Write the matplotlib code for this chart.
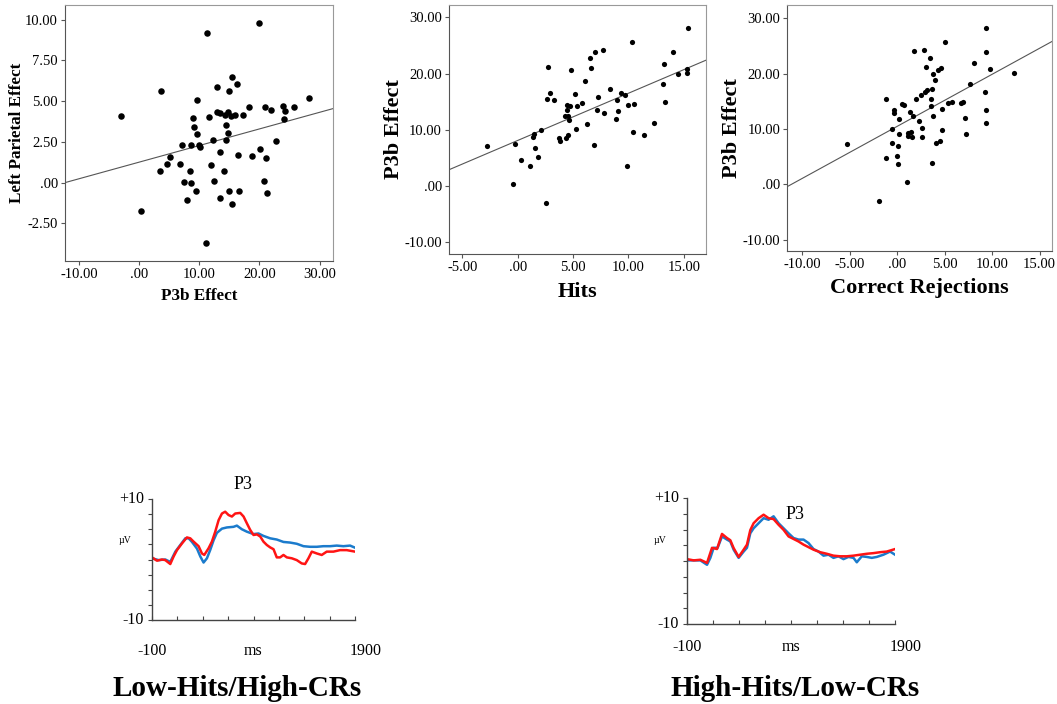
import numpy as np
import matplotlib
matplotlib.use("Agg")
import matplotlib.pyplot as plt

plt.rcParams['font.family'] = ['Liberation Serif', 'DejaVu Serif']

# --- scatter 1: P3b effect vs left parietal effect ---
p3b_x = [-3.0, 3.7, 0.4, 3.5, 4.6, 5.1, 6.8, 7.2, 7.4, 7.9, 8.6, 8.5, 8.6, 9.0, 9.1,
         9.5, 9.6, 9.7, 10.0, 10.1, 11.1, 11.3, 11.6, 12.0, 12.3, 12.4, 13.0, 13.0,
         13.4, 13.5, 13.4, 14.1, 14.3, 14.5, 14.5, 14.7, 14.7, 14.9, 15.0, 15.2, 15.4,
         15.5, 16.0, 16.3, 16.4, 16.6, 17.3, 18.2, 18.8, 20.0, 20.1, 20.8, 20.9, 21.1,
         21.2, 21.9, 22.8, 23.9, 24.0, 24.3, 25.7, 28.2]
lp_y = [4.12, 5.63, -1.71, 0.73, 1.16, 1.57, 1.12, 2.33, 0.06, -1.04, 2.33, 0.73, -0.02,
        3.94, 3.41, -0.49, 2.98, 5.06, 2.31, 2.18, -3.67, 9.2, 4.06, 1.10, 2.59, 0.12,
        5.9, 4.31, 4.29, 1.90, -0.92, 0.73, 4.16, 3.57, 2.61, 3.06, 4.35, -0.49, 5.65,
        4.12, 6.47, -1.29, 4.18, 6.06, 1.69, -0.53, 4.14, 4.67, 1.63, 9.8, 2.06, 0.08,
        4.65, 1.53, -0.63, 4.49, 2.53, 4.69, 3.90, 4.39, 4.65, 5.18]
fit1 = (1.26, 0.102)  # intercept, slope

# --- scatter 2: hits vs P3b effect ---
hits_x = [-2.77, -0.21, -0.39, 0.30, 1.11, 1.39, 1.51, 1.57, 1.87, 2.14, 2.59, 2.68, 2.74,
          2.95, 3.31, 3.77, 3.86, 4.31, 4.40, 4.46, 4.49, 4.55, 4.58, 4.64, 4.73, 4.82,
          5.18, 5.24, 5.33, 5.84, 6.08, 6.23, 6.51, 6.63, 6.90, 7.02, 7.20, 7.23, 7.71,
          7.80, 8.31, 8.89, 9.01, 9.10, 9.37, 9.67, 9.88, 10.0, 10.30, 10.39, 10.48,
          11.36, 12.29, 13.13, 13.22, 13.34, 14.01, 14.43, 15.27, 15.33, 15.36]
hits_y = [7.12, 7.42, 0.42, 4.63, 3.56, 8.66, 9.32, 6.82, 5.10, 9.97, -2.97, 15.43, 21.13,
          16.62, 15.31, 8.55, 7.95, 12.46, 8.61, 13.47, 14.48, 9.14, 12.40, 11.69, 14.18,
          20.65, 16.32, 10.15, 14.18, 14.84, 18.69, 10.98, 22.73, 21.01, 7.36, 23.92,
          13.47, 15.91, 24.21, 12.94, 17.21, 11.99, 15.37, 13.35, 16.62, 16.26, 3.62,
          14.42, 25.64, 9.67, 14.60, 9.02, 11.22, 18.16, 21.78, 14.90, 23.86, 19.94,
          20.12, 20.89, 28.13]
fit2 = (8.1, 0.84)

# --- scatter 3: correct rejections vs P3b effect ---
cr_x = [-5.26, -1.89, -1.23, -1.16, -0.56, -0.56, -0.35, -0.35, -0.04, 0.04, 0.11, 0.18,
        0.18, 0.46, 0.70, 1.02, 1.09, 1.16, 1.33, 1.47, 1.54, 1.65, 1.72, 1.93, 2.32,
        2.49, 2.60, 2.63, 2.77, 2.95, 3.02, 3.16, 3.44, 3.54, 3.54, 3.61, 3.61, 3.75,
        3.82, 4.0, 4.04, 4.25, 4.49, 4.60, 4.67, 4.74, 5.05, 5.37, 5.79, 6.74, 6.91,
        7.16, 7.19, 7.68, 8.04, 9.23, 9.30, 9.33, 9.37, 9.37, 9.82, 12.32]
cr_y = [7.29, -2.89, 15.36, 4.76, 10.06, 7.53, 13.43, 12.95, 5.18, 3.67, 6.93, 9.10,
        11.75, 14.58, 14.28, 0.54, 9.22, 8.73, 13.13, 9.52, 8.61, 12.35, 24.04, 15.48,
        11.39, 16.08, 10.18, 8.55, 24.34, 16.63, 21.27, 16.99, 22.83, 15.48, 14.16,
        17.29, 3.80, 12.41, 20.0, 18.8, 7.47, 20.72, 7.89, 21.08, 9.76, 13.55, 25.78,
        14.76, 14.82, 14.64, 14.94, 12.05, 9.10, 18.19, 21.87, 16.69, 23.98, 28.19,
        13.49, 11.08, 20.9, 20.18]
fit3 = (10.5, 0.94)

# --- ERP waveforms (ms, microvolts) ---
low_blue_t = [-100, -34, 31, 80, 130, 179, 228, 261, 294, 343, 376, 408, 441, 474, 507,
              539, 589, 638, 703, 736, 785, 834, 900, 949, 998, 1064, 1129, 1195, 1260,
              1326, 1392, 1457, 1523, 1588, 1654, 1720, 1785, 1851, 1900]
low_blue_v = [0.2, -0.1, 0.0, -0.4, 1.3, 2.4, 3.5, 3.5, 2.9, 1.8, 0.5, -0.5, 0.2, 1.6, 3.2,
              4.4, 5.1, 5.3, 5.4, 5.6, 5.0, 4.6, 4.2, 4.3, 3.9, 3.5, 3.3, 2.9, 2.8, 2.6,
              2.2, 2.1, 2.1, 2.2, 2.2, 2.3, 2.2, 2.3, 1.95]
low_red_t = [-100, -51, -2, 31, 80, 113, 146, 195, 244, 277, 310, 359, 392, 415, 457, 490,
             523, 556, 589, 621, 654, 687, 720, 769, 802, 834, 867, 900, 933, 966, 998,
             1031, 1064, 1097, 1129, 1162, 1195, 1228, 1277, 1326, 1375, 1408, 1441, 1474,
             1523, 1572, 1621, 1687, 1752, 1818, 1900]
low_red_v = [0.35, -0.2, 0.0, -0.1, -0.75, 0.5, 1.55, 2.65, 3.65, 3.5, 2.95, 2.2, 1.0, 0.75,
             1.85, 2.95, 4.6, 6.5, 7.6, 7.9, 7.35, 7.1, 7.6, 7.7, 7.1, 6.0, 4.9, 4.05, 4.15,
             3.8, 2.95, 2.4, 2.0, 1.7, 0.35, 0.35, 0.75, 0.35, 0.2, -0.1, -0.65, -0.75, 0.2,
             1.3, 1.0, 0.75, 1.3, 1.3, 1.55, 1.55, 1.3]
high_blue_t = [-100, -36, 28, 92, 124, 156, 194, 236, 284, 316, 348, 396, 444, 476, 508,
               540, 588, 636, 684, 732, 780, 828, 876, 924, 972, 1020, 1068, 1116, 1164,
               1212, 1260, 1308, 1356, 1404, 1452, 1500, 1532, 1580, 1628, 1676, 1724,
               1788, 1852, 1900]
high_blue_v = [0.1, 0.1, 0.1, -0.6, 0.5, 2.1, 2.1, 3.9, 3.4, 3.1, 1.8, 0.5, 1.5, 2.1, 4.4,
               5.2, 6.0, 6.8, 6.55, 7.1, 6.0, 5.2, 4.4, 3.65, 3.4, 3.4, 2.85, 1.9, 1.5,
               0.85, 1.0, 0.5, 0.75, 0.3, 0.65, 0.5, -0.2, 0.75, 0.65, 0.5, 0.65, 1.0, 1.5,
               1.0]
high_red_t = [-100, -36, 28, 92, 140, 188, 236, 284, 316, 348, 396, 444, 476, 508, 540,
              588, 636, 684, 732, 780, 828, 876, 924, 972, 1020, 1068, 1116, 1180, 1244,
              1308, 1372, 1436, 1500, 1564, 1628, 1692, 1756, 1820, 1900]
high_red_v = [0.3, 0.1, 0.2, -0.3, 2.1, 1.9, 4.3, 3.65, 3.3, 2.05, 0.65, 1.8, 2.6, 4.9,
              6.0, 6.8, 7.35, 6.8, 6.65, 5.75, 4.95, 3.9, 3.5, 3.1, 2.6, 2.2, 1.8, 1.4,
              1.15, 0.85, 0.75, 0.75, 0.85, 1.0, 1.15, 1.25, 1.4, 1.5, 1.9]

BLUE = '#1b7bcc'
RED = '#ff1414'

fig = plt.figure(figsize=(10.57, 7.04), dpi=100)


def scatter_panel(rect, x, y, fit, xlim, ylim, xticks, yticks, xlabel, ylabel,
                  size, lab_size, xpad, ypad):
    ax = fig.add_axes(rect)
    ax.scatter(x, y, s=size, color='black', zorder=3, linewidths=0)
    xs = np.array(xlim)
    ax.plot(xs, fit[0] + fit[1] * xs, color='#555555', lw=0.8)
    ax.set_xlim(xlim)
    ax.set_ylim(ylim)
    ax.set_xticks(xticks)
    ax.set_yticks(yticks)
    fmt = lambda v: '.00' if v == 0 else f'{v:.2f}'
    ax.set_xticklabels([fmt(v) for v in xticks])
    ax.set_yticklabels([fmt(v) for v in yticks])
    ax.tick_params(labelsize=10.5, length=3, color='#555555', pad=2)
    for s in ax.spines.values():
        s.set_color('#999999')
        s.set_linewidth(0.8)
    ax.spines['left'].set_color('#555555')
    ax.spines['bottom'].set_color('#555555')
    ax.set_xlabel(xlabel, fontsize=lab_size, fontweight='bold', labelpad=xpad)
    ax.set_ylabel(ylabel, fontsize=lab_size, fontweight='bold', labelpad=ypad)
    return ax


scatter_panel([0.0615, 0.6293, 0.2535, 0.3636], p3b_x, lp_y, fit1, (-12.3, 32.2),
              (-4.8, 10.9), [-10, 0, 10, 20, 30], [-2.5, 0, 2.5, 5, 7.5, 10],
              'P3b Effect', 'Left Parietal Effect', 22, 12.3, 5, 0)
scatter_panel([0.4248, 0.6392, 0.2431, 0.3537], hits_x, hits_y, fit2, (-6.2, 17.0),
              (-12.1, 32.2), [-5, 0, 5, 10, 15], [-10, 0, 10, 20, 30],
              'Hits', 'P3b Effect', 14, 16, 6, 0)
scatter_panel([0.7446, 0.6435, 0.2507, 0.3494], cr_x, cr_y, fit3, (-11.6, 16.3),
              (-12.0, 32.4), [-10, -5, 0, 5, 10, 15], [-10, 0, 10, 20, 30],
              'Correct Rejections', 'P3b Effect', 14, 16, 5, 0)


def erp_panel(rect, blue_t, blue_v, red_t, red_v, p3_xy, lab_y):
    ax = fig.add_axes(rect)
    ax.plot(blue_t, blue_v, color=BLUE, lw=1.8)
    ax.plot(red_t, red_v, color=RED, lw=1.8)
    ax.set_xlim(-100, 1900)
    ax.set_ylim(-10, 10)
    ax.set_xticks(np.arange(-100, 1901, 250))
    ax.set_yticks(np.arange(-10, 10.1, 2.5))
    ax.set_xticklabels([])
    ax.set_yticklabels([])
    ax.tick_params(axis='x', direction='in', length=3, color='#444444')
    ax.tick_params(axis='y', direction='out', length=3, color='#444444')
    ax.spines['top'].set_visible(False)
    ax.spines['right'].set_visible(False)
    for s in ('left', 'bottom'):
        ax.spines[s].set_color('#444444')
        ax.spines[s].set_linewidth(1.0)
    t = ax.transAxes
    ax.text(-0.04, 1.0, '+10', transform=t, ha='right', va='center', fontsize=11.5)
    ax.text(-0.04, 0.0, '-10', transform=t, ha='right', va='center', fontsize=11.5)
    ax.text(-0.1, 0.66, 'µV', transform=t, ha='right', va='center', fontsize=7)
    ax.text(0.0, lab_y, '-100', transform=t, ha='center', va='center', fontsize=11.5)
    ax.text(0.5, lab_y, 'ms', transform=t, ha='center', va='center', fontsize=11.5)
    ax.text(1.05, lab_y, '1900', transform=t, ha='center', va='center', fontsize=11.5)
    ax.text(p3_xy[0], p3_xy[1], 'P3', transform=t, ha='center', va='center', fontsize=13)
    return ax


erp_panel([0.1438, 0.1193, 0.1921, 0.1719], low_blue_t, low_blue_v, low_red_t, low_red_v,
          (0.45, 1.12), -0.26)
erp_panel([0.6500, 0.1136, 0.1968, 0.1790], high_blue_t, high_blue_v, high_red_t,
          high_red_v, (0.52, 0.87), -0.18)

fig.text(237 / 1057, 1 - 688 / 704, 'Low-Hits/High-CRs', ha='center', va='center',
         fontsize=21, fontweight='bold')
fig.text(795 / 1057, 1 - 688 / 704, 'High-Hits/Low-CRs', ha='center', va='center',
         fontsize=21, fontweight='bold')

fig.savefig('out.png', dpi=100)
